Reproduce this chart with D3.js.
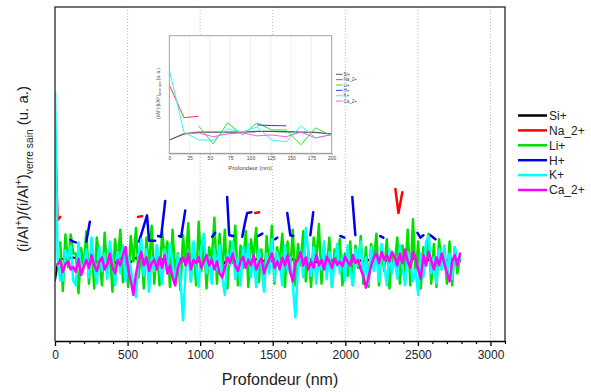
<!DOCTYPE html>
<html><head><meta charset="utf-8">
<script src="https://cdn.jsdelivr.net/npm/d3@7"></script>
<style>body{margin:0;background:#fff}svg{display:block}text{font-family:"Liberation Sans",Arial,sans-serif}</style>
</head><body><svg id="c" width="591" height="392"></svg>
<script>
// ---- data ----
const step = 18; // nm between measurements
const siValues = [0.76,0.97,1.03,1.03,1.03,1.03,1.05,1.05,1.04,1.03,1.02,0.97,
1.00,1.02,1.04,1.01,0.99,1.03,1.05,1.02,1.00,1.03,1.01,0.98,
1.02,1.04,1.00,1.01,1.03,0.99,1.02,1.05,1.01,1.00,1.03,1.02,
0.99,1.01,1.04,1.02,1.00,1.03,1.01,0.98,1.02,1.04,1.01,1.00,
1.03,1.05,1.02,0.99,1.01,1.04,1.02,1.00,1.03,1.01,0.99,1.02,
1.04,1.01,1.00,1.03,1.02,0.98,1.01,1.04,1.02,1.00,1.03,1.01,
0.99,1.02,1.05,1.01,1.00,1.03,1.02,0.99,1.01,1.04,1.02,1.00,
1.03,1.01,0.98,1.02,1.04,1.01,1.00,1.03,1.02,0.99,1.01,1.04,
1.02,1.00,1.03,1.01,0.99,1.02,1.05,1.01,1.00,1.03,1.02,0.98,
1.01,1.04,1.02,1.00,1.03,1.01,0.99,1.02,1.04,1.01,1.00,1.03,
1.02,0.99,1.01,1.04,1.02,1.00,1.03,1.01,0.98,1.02,1.05,1.01,
1.00,1.03,1.02,0.99,1.01,1.04,1.02,1.00,1.03,1.01,0.99,1.02,
1.04,1.01,1.00,1.03,1.02,0.98,1.01,1.04,1.02,1.00,1.03,1.01];
const liValues = [null,null,1.24,0.63,1.34,0.93,1.34,1.10,1.10,0.60,1.17,0.93,
1.38,0.72,1.25,0.66,1.30,1.05,0.70,1.36,
0.85,1.12,0.62,1.28,0.95,1.40,0.74,1.18,0.68,1.32,
1.00,1.42,0.80,1.15,0.66,1.30,0.90,1.45,0.72,1.20,
0.70,1.38,1.05,1.25,0.68,1.40,0.82,1.10,0.64,1.33,
0.95,1.48,0.75,1.22,0.70,1.50,0.88,1.30,0.66,1.18,
1.02,1.55,0.72,1.35,0.85,1.40,0.66,1.25,0.98,1.45,
0.70,1.20,0.92,1.38,0.68,1.28,1.05,1.42,0.74,1.15,
0.66,1.32,0.90,1.45,0.72,1.18,1.00,1.35,0.68,1.25,
0.85,1.40,0.70,1.22,0.95,1.38,0.75,1.12,0.68,1.30,
1.02,1.47,0.72,1.20,0.88,1.30,0.68,1.15,0.95,1.28,
0.70,1.10,0.82,1.25,0.70,1.20,0.92,1.32,0.72,1.18,
0.68,1.22,1.00,1.35,0.70,1.15,0.88,1.28,0.66,1.10,
0.95,1.30,0.72,1.20,0.85,1.40,0.70,1.53,0.80,1.25,
0.66,1.18,0.95,1.35,0.72,1.22,0.68,1.28,0.90,1.15,
0.72,1.25,0.70,1.18,0.85,1.05];
const kValues = [3.13,1.03,0.76,0.76,1.14,1.03,1.20,0.76,0.70,1.24,0.83,0.93,
1.15,0.80,1.30,0.95,0.72,1.18,0.88,1.10,
0.78,1.25,1.00,0.70,1.12,0.85,1.20,0.75,1.05,0.92,
0.70,0.55,1.10,1.28,0.82,1.15,0.62,1.05,0.88,1.20,
0.95,0.72,1.15,0.85,1.22,0.98,0.70,1.08,0.80,0.26,
0.90,1.12,0.75,1.25,0.95,0.68,1.18,1.35,0.85,1.05,
0.72,1.15,0.90,1.20,0.80,0.58,1.10,0.95,1.25,0.78,
1.05,0.70,1.18,0.92,1.22,0.80,1.08,0.68,1.15,0.95,
0.62,1.10,0.85,1.28,0.75,1.12,0.98,0.70,1.20,0.88,
1.05,0.72,0.30,0.95,1.15,0.80,1.42,1.10,0.82,1.18,
0.72,1.05,0.90,1.25,0.78,1.12,0.68,1.00,1.22,0.85,
1.08,0.75,1.20,0.90,0.70,1.15,0.95,1.25,0.80,1.05,
0.72,1.18,0.88,1.10,0.75,1.22,0.95,0.70,1.15,0.85,
1.05,0.78,1.20,0.92,0.70,1.12,1.00,0.75,0.90,0.58,
1.10,0.80,1.25,1.32,0.85,1.05,0.72,1.15,0.90,1.20,
0.82,1.10,0.78,1.18,0.95,1.05];
const caValues = [null,0.97,1.00,0.87,0.97,1.00,0.90,0.93,0.87,1.03,0.83,0.93,
1.02,0.92,1.08,0.95,0.88,1.00,1.05,0.90,
0.96,1.10,0.92,0.85,1.02,0.95,1.08,1.18,0.90,0.75,
0.58,0.85,1.00,1.12,0.95,1.05,0.88,0.98,1.02,0.90,
1.05,0.92,1.08,0.85,0.95,0.80,0.70,0.92,1.00,1.05,
0.95,1.10,0.90,1.02,0.98,1.06,0.92,1.00,1.08,0.95,
1.02,0.90,1.00,0.85,0.80,0.92,1.05,0.98,1.10,0.95,
0.88,1.00,1.06,0.92,1.02,0.95,1.08,0.90,0.98,1.04,
0.85,0.95,1.02,1.10,0.92,1.00,0.90,1.05,0.95,1.08,
0.88,0.75,0.98,1.02,1.12,0.95,1.05,0.90,1.00,0.92,
1.08,0.95,1.02,0.90,1.06,1.00,0.92,1.04,0.96,1.00,
0.94,1.06,1.00,0.95,1.08,0.98,1.02,0.90,0.82,0.67,
0.80,0.95,1.05,1.10,0.98,1.12,1.02,1.08,1.00,1.12,
1.05,0.95,1.10,0.98,1.15,1.00,0.92,1.12,1.05,0.90,
0.78,1.08,0.95,1.12,1.00,0.90,1.05,0.95,1.10,0.98,
0.85,0.75,1.00,1.08,0.95,1.10];
// sparse series (null = gap)
const naDepth = [0,18,36,null,572,600,null,1379,1407,null,2345,2366,2393];
const naValues = [2.62,1.52,1.56,null,1.56,1.57,null,1.61,1.62,null,1.91,1.61,1.87];
const hDepth = [108,126,144,null,216,240,null,579,634,648,690,null,710,731,759,null,855,869,897,null,1083,1103,null,
1186,1200,1228,null,1290,1310,1324,1352,null,1400,1428,null,1517,1531,null,1600,1621,1641,null,1759,1779,null,
1966,1993,null,2048,2069,null,2241,2262,null,2497,2517,2538,null,2586,2621];
const hValues = [1.27,1.25,1.24,null,1.25,1.50,null,1.25,1.58,1.26,1.26,null,1.32,1.31,1.76,null,1.32,1.31,1.64,null,1.31,1.36,null,
1.81,1.33,1.32,null,1.31,1.50,1.61,1.62,null,1.32,1.35,null,1.28,1.30,null,1.61,1.33,1.32,null,1.33,1.62,null,
1.32,1.30,null,1.81,1.33,null,1.32,1.30,null,1.36,1.30,1.33,null,1.33,1.28];
const seriesNames = ["Si+","Na_2+","Li+","H+","K+","Ca_2+"];
const mainColors = ["#000000","#ff0000","#00e000","#0000f0","#00ffff","#ff00ff"];
const insetColors = ["#555555","#ff3b3b","#33dd33","#3333ff","#33f5f5","#ff55ff"];
const xTicks = [0,500,1000,1500,2000,2500,3000];
const insetTicks = [0,25,50,75,100,125,150,175,200];

// ---- build point lists ----
const regular = v => v.map((y,i)=>[i*step,y]);
const sparse = (d,v) => d.map((x,i)=>[x,v[i]]);
const seriesPts = [regular(siValues), sparse(naDepth,naValues), regular(liValues),
                   sparse(hDepth,hValues), regular(kValues), regular(caValues)];

const svg = d3.select("#c");
const L=55,R=505,T=7,B=341;
const x = d3.scaleLinear([0,3100],[L,R]);
const y = d3.scaleLinear([0,4.2],[B,T]);

// grid
svg.append("g").selectAll("line").data(xTicks.slice(1)).join("line")
  .attr("x1",d=>x(d)).attr("x2",d=>x(d)).attr("y1",T).attr("y2",B)
  .attr("stroke","#b8b8b8").attr("stroke-width",1).attr("stroke-dasharray","1,2");

svg.append("clipPath").attr("id","mc").append("rect").attr("x",L).attr("y",T).attr("width",R-L).attr("height",B-T);
const line = d3.line().defined(d=>d[0]!=null && d[1]!=null).x(d=>x(d[0])).y(d=>y(d[1]));
const gm = svg.append("g").attr("clip-path","url(#mc)");
seriesPts.forEach((pts,i)=>{
  gm.append("path").attr("d",line(pts)).attr("fill","none")
    .attr("stroke",mainColors[i]).attr("stroke-width",i===0?2:2.5)
    .attr("stroke-linejoin","round").attr("stroke-linecap","round");
});

// frame
svg.append("path").attr("d",`M${L},${B}V${T}H${R}V${B}`).attr("fill","none").attr("stroke","#444").attr("stroke-width",1.5);

// x axis
const ax = svg.append("g").attr("transform",`translate(0,${B})`)
  .call(d3.axisBottom(x).tickValues(xTicks).tickSize(5).tickSizeOuter(0).tickPadding(4).tickFormat(d3.format("d")));
ax.select(".domain").attr("stroke","#000").attr("stroke-width",1.5);
ax.selectAll(".tick line").attr("stroke","#000").attr("stroke-width",1.3);
ax.selectAll("text").attr("font-size",12).attr("fill","#222").attr("font-family","Liberation Sans, Arial, sans-serif");
const axm = svg.append("g").attr("transform",`translate(0,${B})`)
  .call(d3.axisBottom(x).tickValues(d3.range(0,3101,100).filter(v=>v%500!==0 || v===3100)).tickSize(3).tickSizeOuter(0).tickFormat(""));
axm.select(".domain").remove();
axm.selectAll(".tick line").attr("stroke","#000").attr("stroke-width",1.2);

svg.append("text").attr("x",280).attr("y",385).attr("text-anchor","middle").attr("font-size",16).attr("fill","#222").text("Profondeur (nm)");

// y title with sup/sub
function richLabel(g, fs){
  const t = g.append("text").attr("text-anchor","middle").attr("font-size",fs).attr("fill","#222");
  const parts = [["(i/Al",0],["+",-1],[")/(i/Al",0],["+",-1],[")",0],["verre sain",1],[" (u. a.)",0]];
  let cur = 0;
  parts.forEach(([s,k])=>{
    const target = k===-1 ? -0.42*fs : k===1 ? 0.3*fs : 0;
    t.append("tspan").attr("dy",target-cur).attr("font-size",k===0?fs:fs*0.68).text(s);
    cur = target;
  });
  return t;
}
richLabel(svg.append("g").attr("transform","translate(28,169) rotate(-90)"),15);

// legend
const lg = svg.append("g");
seriesNames.forEach((n,i)=>{
  const yy = 115.5 + i*14.9;
  lg.append("line").attr("x1",518).attr("x2",547).attr("y1",yy).attr("y2",yy).attr("stroke",mainColors[i]).attr("stroke-width",2.5);
  lg.append("text").attr("x",549).attr("y",yy+4.3).attr("font-size",12).attr("fill","#222").text(n);
});

// ---- inset ----
const iL=169.3,iR=331.7,iT=35.7,iB=153.3;
const ix = d3.scaleLinear([0,200],[iL,iR]);
const iy = d3.scaleLinear([0.31,4.29],[iB,iT]);
svg.append("rect").attr("x",iL).attr("y",iT).attr("width",iR-iL).attr("height",iB-iT).attr("fill","#fff");
svg.append("g").selectAll("line").data(insetTicks.slice(1,-1)).join("line")
  .attr("x1",d=>ix(d)).attr("x2",d=>ix(d)).attr("y1",iT).attr("y2",iB).attr("stroke","#ececec").attr("stroke-width",0.8);
svg.append("clipPath").attr("id","ic").append("rect").attr("x",iL).attr("y",iT).attr("width",iR-iL).attr("height",iB-iT);
const iline = d3.line().defined(d=>d[0]!=null && d[1]!=null).x(d=>ix(d[0])).y(d=>iy(d[1]));
const gi = svg.append("g").attr("clip-path","url(#ic)");
seriesPts.forEach((pts,i)=>{
  const p = pts.filter(d=>d[0]==null || d[0]<=216);
  gi.append("path").attr("d",iline(p)).attr("fill","none").attr("stroke",insetColors[i]).attr("stroke-width",i===0?1.3:1);
});
svg.append("rect").attr("x",iL).attr("y",iT).attr("width",iR-iL).attr("height",iB-iT).attr("fill","none").attr("stroke","#999").attr("stroke-width",0.9);
const iax = svg.append("g").attr("transform",`translate(0,${iB})`)
  .call(d3.axisBottom(ix).tickValues(insetTicks).tickSize(1.5).tickSizeOuter(0).tickPadding(2));
iax.select(".domain").attr("stroke","#999");
iax.selectAll(".tick line").attr("stroke","#999");
iax.selectAll("text").attr("font-size",5).attr("fill","#444").attr("font-family","Liberation Sans, Arial, sans-serif");
svg.append("text").attr("x",250).attr("y",170).attr("text-anchor","middle").attr("font-size",6).attr("fill","#444").text("Profondeur (nm)");
richLabel(svg.append("g").attr("transform","translate(160,93.5) rotate(-90)"),4.6).attr("fill","#444");
seriesNames.forEach((n,i)=>{
  const yy = 74.3 + i*5.35;
  svg.append("line").attr("x1",336).attr("x2",342.5).attr("y1",yy).attr("y2",yy).attr("stroke",insetColors[i]).attr("stroke-width",1);
  svg.append("text").attr("x",343.5).attr("y",yy+1.6).attr("font-size",4.5).attr("fill","#444").text(n);
});
</script></body></html>
